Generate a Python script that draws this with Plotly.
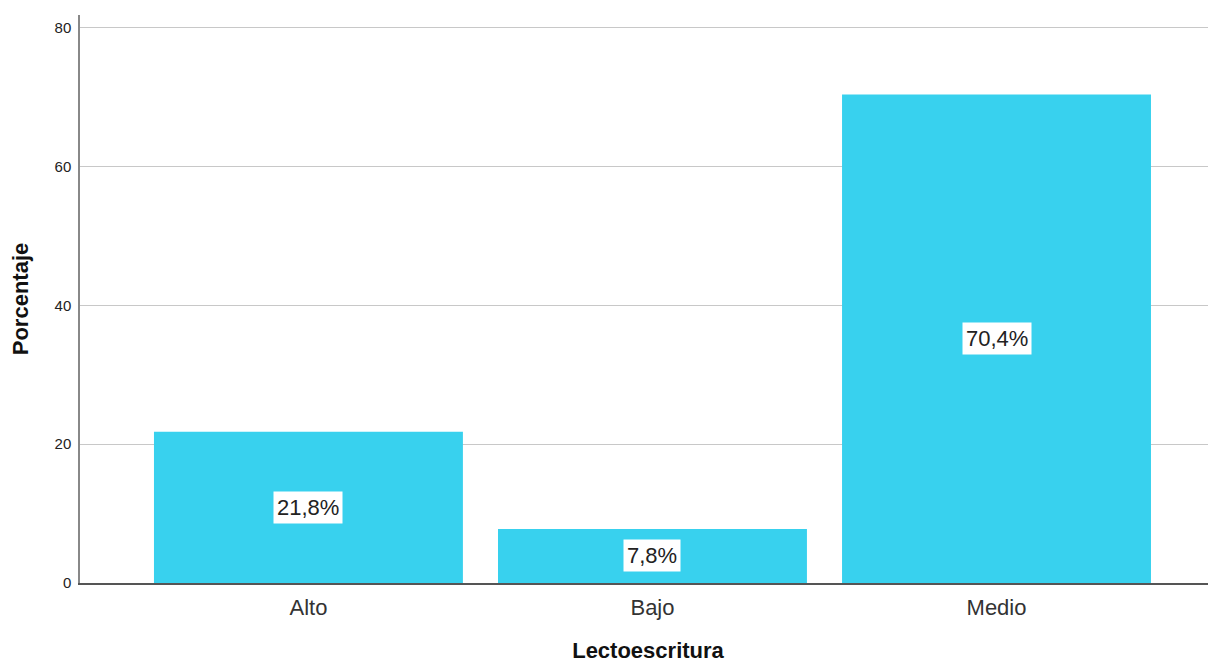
import plotly.graph_objects as go

categories = ["Alto", "Bajo", "Medio"]
values = [21.8, 7.8, 70.4]
value_labels = ["21,8%", "7,8%", "70,4%"]
y_ticks = [0, 20, 40, 60, 80]

BAR_COLOR = "#38d1ee"
FONT = "Liberation Sans, Arial, sans-serif"

fig = go.Figure()
fig.add_trace(go.Bar(
    x=categories, y=values, marker=dict(color=BAR_COLOR, line=dict(width=0)),
    width=0.898, hoverinfo="skip"
))

for c, v, lab in zip(categories, values, value_labels):
    fig.add_annotation(
        x=c, y=v / 2, text=lab, showarrow=False,
        font=dict(family=FONT, size=22, color="#222222"),
        bgcolor="white", borderpad=3,
    )

fig.update_layout(
    width=1208, height=655,
    margin=dict(l=72, r=0, t=7, b=80),
    plot_bgcolor="white", paper_bgcolor="white",
    showlegend=False,
    font=dict(family=FONT, color="#222222"),
    xaxis=dict(
        range=[-0.664, 2.638],
        showline=True, linecolor="#555555", linewidth=1.5,
        ticks="", tickfont=dict(size=22, color="#333333"), ticklabelstandoff=4,
        title=dict(text="<b>Lectoescritura</b>", font=dict(size=22, color="#111111"), standoff=26),
        showgrid=False, zeroline=False, automargin=False,
    ),
    yaxis=dict(
        range=[0, 81.87],
        tickvals=y_ticks, ticktext=[str(t) for t in y_ticks],
        showline=True, linecolor="#888888", linewidth=1.5,
        ticks="", tickfont=dict(size=15, color="#222222"), ticklabelstandoff=4,
        showgrid=True, gridcolor="#c8c8c8", gridwidth=1.2,
        zeroline=False, automargin=False,
        title=dict(text="<b>Porcentaje</b>", font=dict(size=22, color="#111111"), standoff=22),
    ),
)

fig.write_html("out.html")
